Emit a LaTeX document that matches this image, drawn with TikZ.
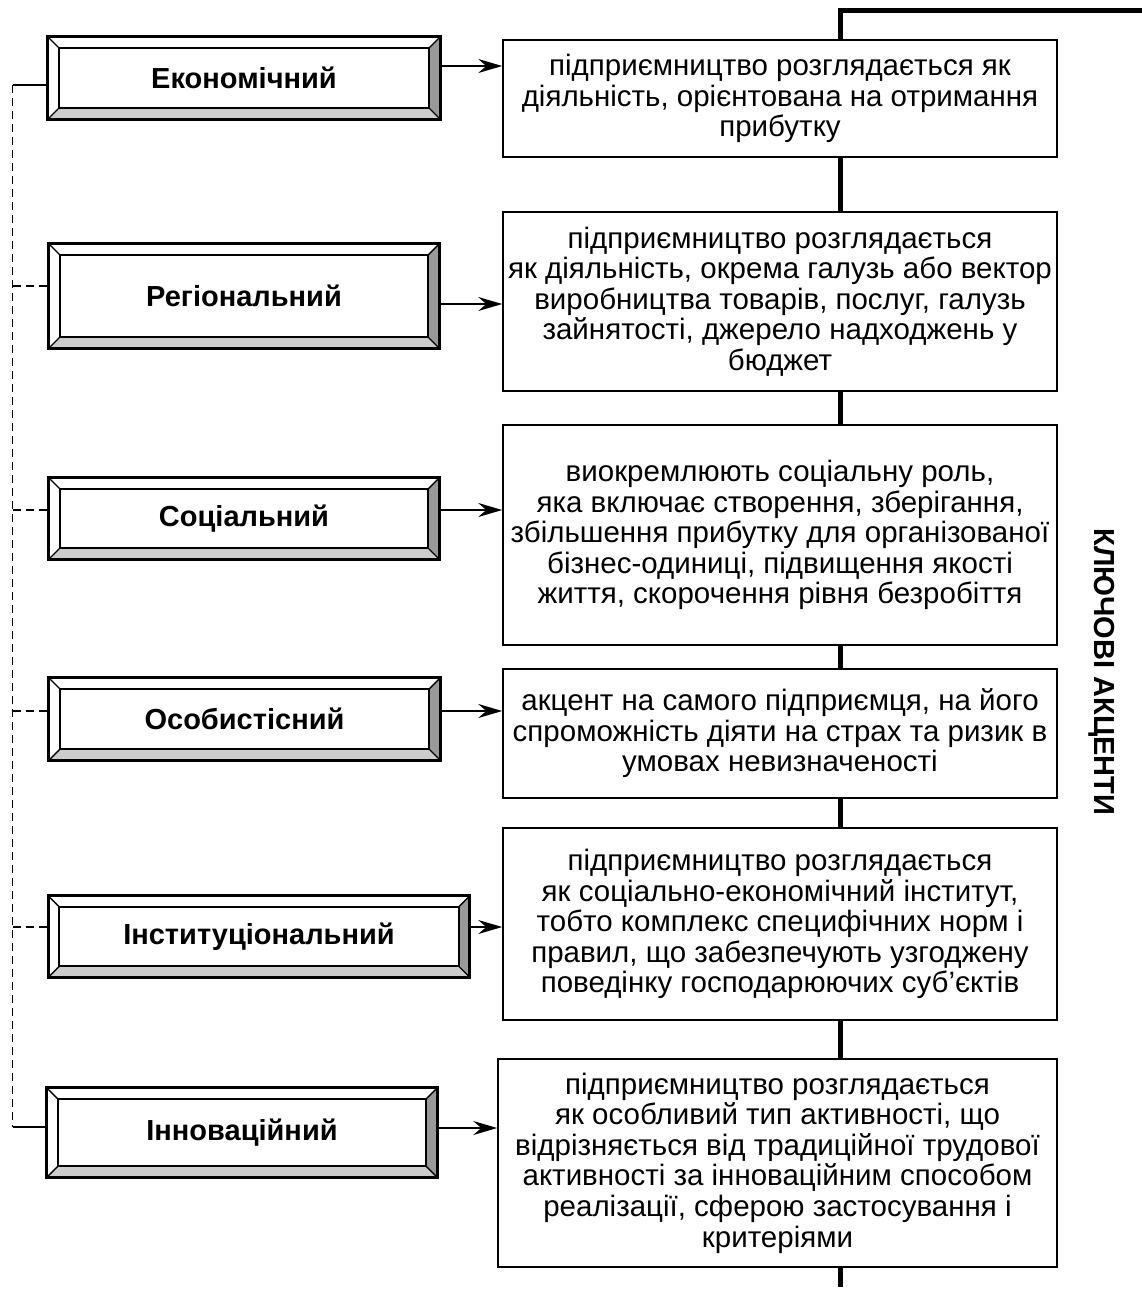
\documentclass[tikz,border=0pt]{standalone}
\usepackage{fontspec}
\setmainfont{Liberation Sans}
\usetikzlibrary{arrows.meta,calc}
\tikzset{
  rbox/.style={draw, line width=1.5pt, fill=white, align=center, inner sep=0pt,
    font=\fontsize{29.5}{30.6}\selectfont},
  lbox/.style={fill=white, inner sep=0pt, font=\fontsize{29}{33}\selectfont\bfseries},
  arr/.style={line width=1.5pt, -{Stealth[length=24pt,width=14pt,inset=8pt]}},
  dconn/.style={line width=1.5pt, dash pattern=on 8pt off 5pt},
  sconn/.style={line width=1.5pt},
  spine/.style={line width=5pt},
  title/.style={font=\fontsize{29}{32}\selectfont\bfseries, rotate=-90, inner sep=0pt},
}
\newcommand{\bevelbox}[1]{%
  \fill[black!40] (#1.north east) -- (#1.south east) -- ($(#1.south east)+(-11,-11)$) -- ($(#1.north east)+(-11,11)$) -- cycle;
  \fill[black!20] (#1.south west) -- (#1.south east) -- ($(#1.south east)+(-11,-11)$) -- ($(#1.south west)+(11,-11)$) -- cycle;
  \draw[line width=2.2pt] ($(#1.north west)+(11,11)$) rectangle ($(#1.south east)+(-11,-11)$);
  \draw[line width=1.4pt] (#1.north west) -- ($(#1.north west)+(11,11)$)
    (#1.north east) -- ($(#1.north east)+(-11,11)$)
    (#1.south west) -- ($(#1.south west)+(11,-11)$)
    (#1.south east) -- ($(#1.south east)+(-11,-11)$);
  \draw[line width=2.8pt] (#1.north west) rectangle (#1.south east);
}
\begin{document}
\lineskiplimit=-60pt
\begin{tikzpicture}[x=1pt,y=-1pt]
\useasboundingbox[fill=white] (0,0) rectangle (1142,1291);

% spine
\coordinate (spR) at (1160,10);
\coordinate (spT) at (840,10);
\coordinate (spB) at (840,1287);
\draw[spine] (spR) -- (spT) -- (spB);

% right boxes
\node[rbox, minimum width=554, minimum height=117] (r1) at (780,98.5)
  {підприємництво розглядається як\\діяльність, орієнтована на отримання\\прибутку};
\node[rbox, minimum width=554, minimum height=179] (r2) at (780,301.5)
  {підприємництво розглядається\\як діяльність, окрема галузь або вектор\\виробництва товарів, послуг, галузь\\зайнятості, джерело надходжень у\\бюджет};
\node[rbox, minimum width=554, minimum height=220] (r3) at (780,535)
  {виокремлюють соціальну роль,\\яка включає створення, зберігання,\\збільшення прибутку для організованої\\бізнес-одиниці, підвищення якості\\життя, скорочення рівня безробіття};
\node[rbox, minimum width=554, minimum height=129] (r4) at (780,733.5)
  {акцент на самого підприємця, на його\\спроможність діяти на страх та ризик в\\умовах невизначеності};
\node[rbox, minimum width=554, minimum height=192] (r5) at (780,924)
  {підприємництво розглядається\\як соціально-економічний інститут,\\тобто комплекс специфічних норм і\\правил, що забезпечують узгоджену\\поведінку господарюючих суб’єктів};
\node[rbox, minimum width=559, minimum height=208] (r6) at (777.5,1163)
  {підприємництво розглядається\\як особливий тип активності, що\\відрізняється від традиційної трудової\\активності за інноваційним способом\\реалізації, сферою застосування і\\критеріями};

% left boxes
\node[lbox, minimum width=392, minimum height=82] (l1) at (244,78) {Економічний};
\bevelbox{l1}
\node[lbox, minimum width=390, minimum height=104] (l2) at (244,296) {Регіональний};
\bevelbox{l2}
\node[lbox, minimum width=390, minimum height=81] (l3) at (244,518.5) {Соціальний};
\bevelbox{l3}
\node[lbox, minimum width=391, minimum height=82] (l4) at (244.5,719) {Особистісний};
\bevelbox{l4}
\node[lbox, minimum width=421, minimum height=81] (l5) at (259,936.5) {Інституціональний};
\bevelbox{l5}
\node[lbox, minimum width=390, minimum height=89] (l6) at (242,1132.5) {Інноваційний};
\bevelbox{l6}

% arrows
\coordinate (a1) at (440,66);
\coordinate (a2) at (439,304);
\coordinate (a3) at (439,510);
\coordinate (a4) at (440,711);
\coordinate (a5) at (469,927);
\coordinate (a6) at (437,1128);
\draw[arr] (a1) -- (a1 -| r1.west);
\draw[arr] (a2) -- (a2 -| r2.west);
\draw[arr] (a3) -- (a3 -| r3.west);
\draw[arr] (a4) -- (a4 -| r4.west);
\draw[arr] (a5) -- (a5 -| r5.west);
\draw[arr] (a6) -- (a6 -| r6.west);

% left connectors
\coordinate (dtop) at (12.5,85);
\coordinate (dbot) at (12.5,1127);
\coordinate (d2) at (12.5,286);
\coordinate (d3) at (12.5,510);
\coordinate (d4) at (12.5,711);
\coordinate (d5) at (12.5,927);
\draw[dconn] (dtop) -- (dbot);
\draw[sconn] (dtop) -- (dtop -| l1.west);
\draw[sconn] (dbot) -- (dbot -| l6.west);
\draw[dconn] (d2) -- (d2 -| l2.west);
\draw[dconn] (d3) -- (d3 -| l3.west);
\draw[dconn] (d4) -- (d4 -| l4.west);
\draw[dconn] (d5) -- (d5 -| l5.west);

% title
\node[title] (ttl) at (1102,672) {КЛЮЧОВІ АКЦЕНТИ};
\end{tikzpicture}
\end{document}
